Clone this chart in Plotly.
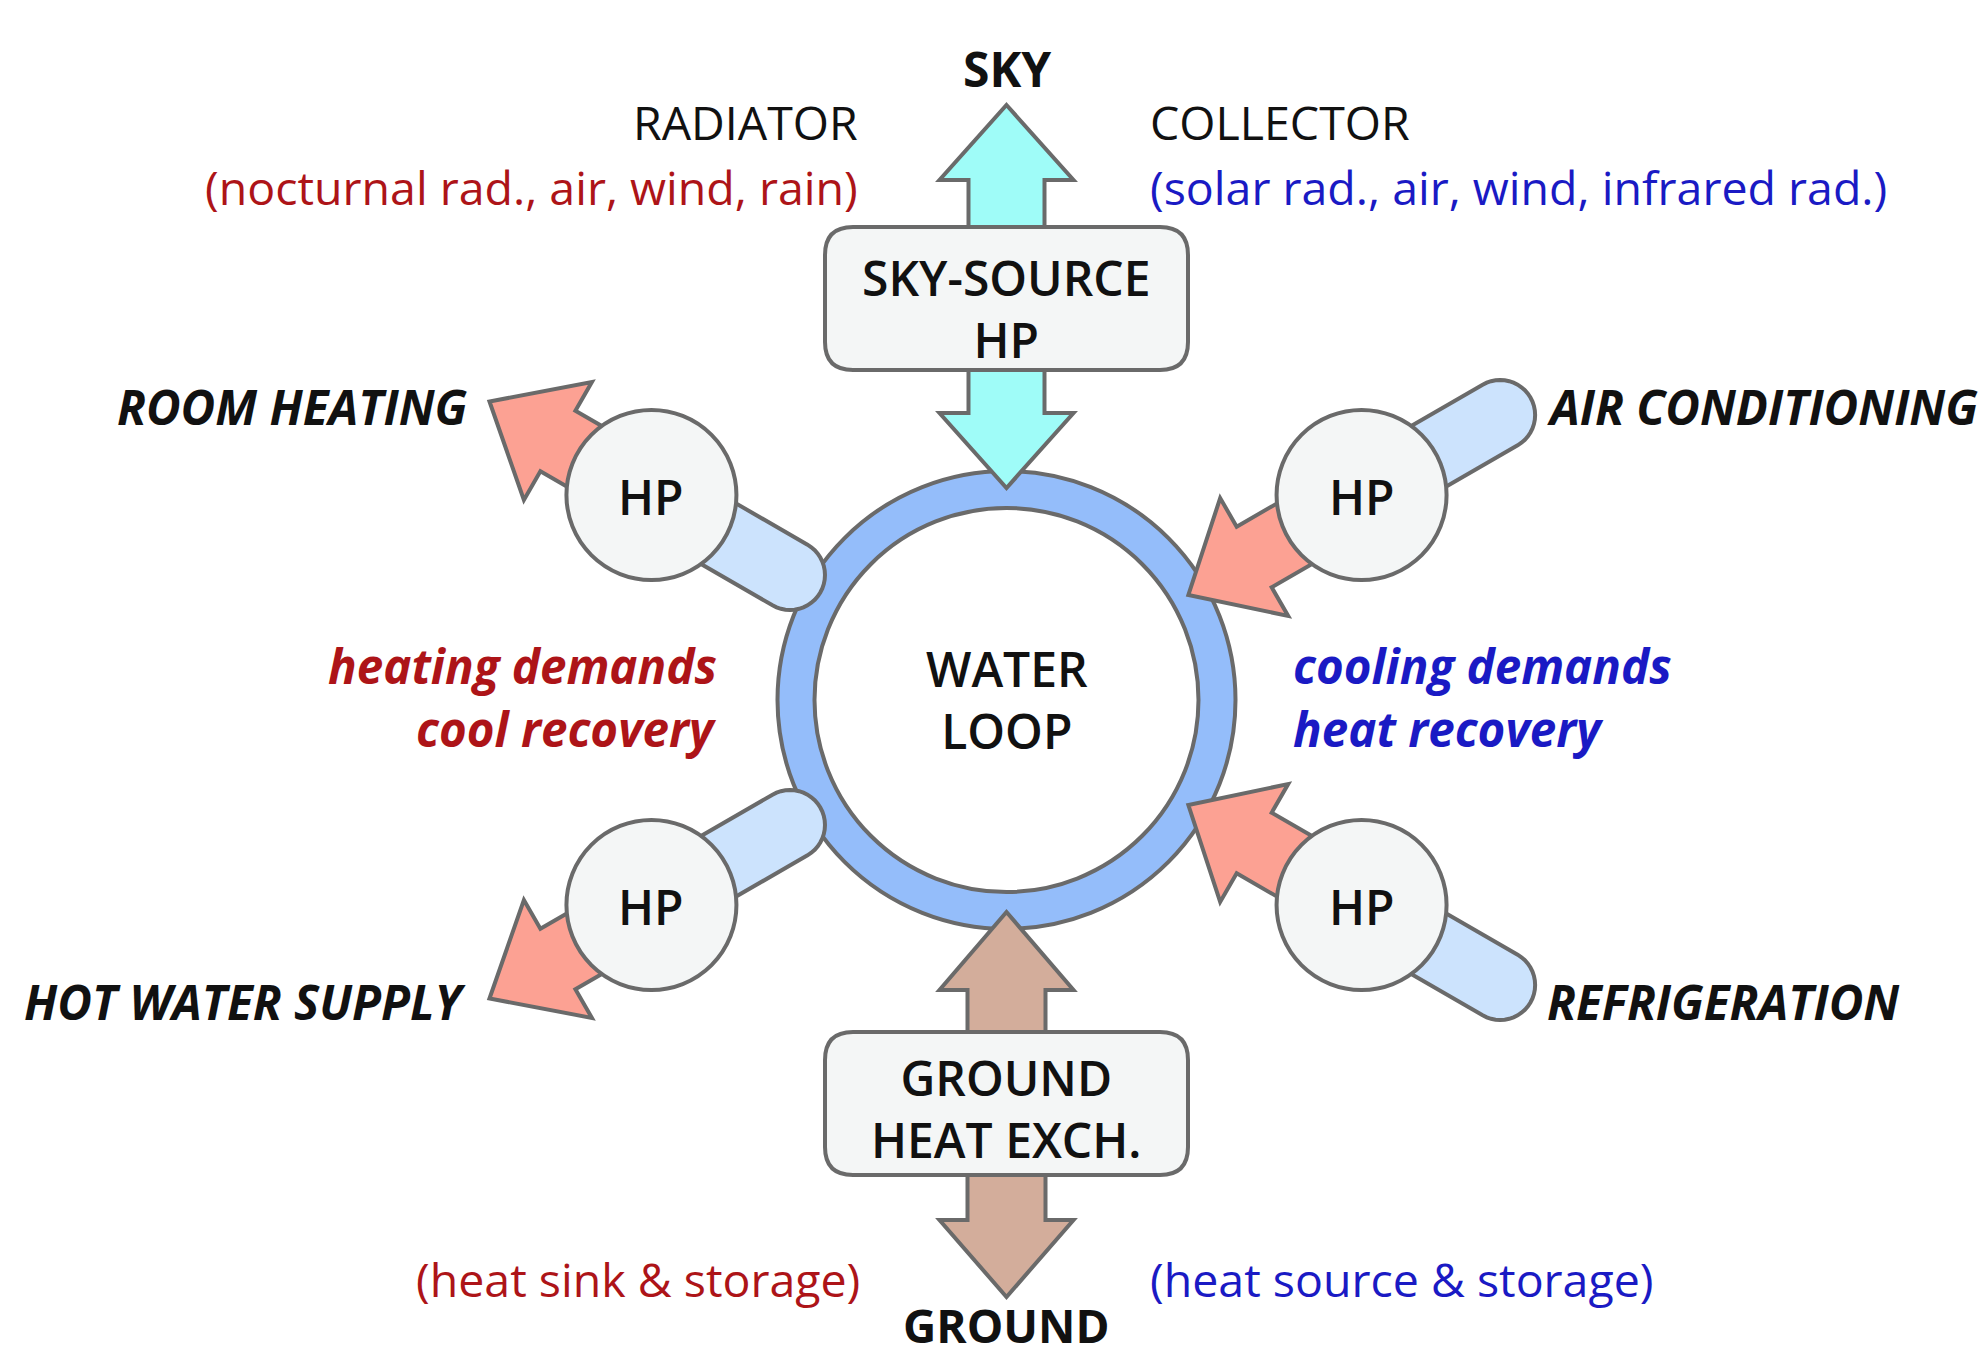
import math
import plotly.graph_objects as go

# ---------------- canvas / geometry ----------------
W, H = 1978, 1358
CX, CY = 1006.5, 700          # water-loop centre
RING_OUTER = 229
RING_INNER = 192
HP_DIST = 410                  # distance of each HP unit from loop centre
HP_R = 85
PIPE_HALF = 35
STROKE = "#6a6a6a"
LW = 4

# ---------------- colours ----------------
RING_BLUE = "#94bdfa"
PIPE_BLUE = "#cce3fd"
UNIT_FILL = "#f4f6f6"
SALMON = "#fca193"
CYAN = "#9ffcf8"
TAN = "#d3ad9b"
RED = "#ad1418"
BLUE = "#1a1ac4"
BLACK = "#111111"
FONT = "Open Sans"

# ---------------- HP units (angles in screen degrees) ----------------
hp_angles = [210, 330, 150, 30]
hp_flow = ["out", "in", "out", "in"]          # red arrow direction w.r.t. loop
pipe_cap_u = [250, 570, 250, 570]             # pipe cap centre distance from loop centre
hp_label = "HP"

# ---------------- labels ----------------
side_labels = ["ROOM HEATING", "AIR CONDITIONING", "HOT WATER SUPPLY", "REFRIGERATION"]
side_x = [469, 1545, 469, 1545]
side_y = [406, 406, 1001, 1001]
side_anchor = ["right", "left", "right", "left"]

demand_left = ["heating demands", "cool recovery"]
demand_right = ["cooling demands", "heat recovery"]
demand_y = [665, 728]

sky_box_lines = ["SKY-SOURCE", "HP"]
sky_box_y = 308
ground_box_lines = ["GROUND", "HEAT EXCH."]
ground_box_y = 1108
loop_lines = ["WATER", "LOOP"]
loop_y = 699

top_left = ["RADIATOR", "(nocturnal rad., air, wind, rain)"]
top_right = ["COLLECTOR", "(solar rad., air, wind, infrared rad.)"]
top_y = [122, 187]
bottom_left = "(heat sink & storage)"
bottom_right = "(heat source & storage)"
bottom_y = 1279


def path_from(points, close=True):
    s = "M " + " L ".join(f"{x:.2f},{y:.2f}" for x, y in points)
    return s + (" Z" if close else "")


def rounded_rect(x0, y0, x1, y1, r):
    return (f"M {x0+r},{y0} L {x1-r},{y0} Q {x1},{y0} {x1},{y0+r} "
            f"L {x1},{y1-r} Q {x1},{y1} {x1-r},{y1} L {x0+r},{y1} "
            f"Q {x0},{y1} {x0},{y1-r} L {x0},{y0+r} Q {x0},{y0} {x0+r},{y0} Z")


def ray(theta_deg):
    t = math.radians(theta_deg)
    d = (math.cos(t), math.sin(t))
    n = (-d[1], d[0])
    return d, n


def pt(d, n, u, v):
    return (CX + d[0] * u + n[0] * v, CY + d[1] * u + n[1] * v)


shapes = []


def add_path(path, fill):
    shapes.append(dict(type="path", path=path, xref="x", yref="y",
                       fillcolor=fill, line=dict(color=STROKE, width=LW), layer="above"))


def add_circle(cx, cy, r, fill):
    shapes.append(dict(type="circle", xref="x", yref="y", x0=cx - r, x1=cx + r,
                       y0=cy - r, y1=cy + r, fillcolor=fill,
                       line=dict(color=STROKE, width=LW), layer="above"))


# water loop ring
add_circle(CX, CY, RING_OUTER, RING_BLUE)
add_circle(CX, CY, RING_INNER, "white")

# vertical double arrows (sky / ground)
def double_arrow(tip_a, base_a, base_b, tip_b, shaft_hw, head_hw, fill):
    pts = [(CX, tip_a), (CX + head_hw, base_a), (CX + shaft_hw, base_a),
           (CX + shaft_hw, base_b), (CX + head_hw, base_b), (CX, tip_b),
           (CX - head_hw, base_b), (CX - shaft_hw, base_b),
           (CX - shaft_hw, base_a), (CX - head_hw, base_a)]
    add_path(path_from(pts), fill)

double_arrow(105, 180, 413, 488, 38, 67, CYAN)
double_arrow(912, 990, 1220, 1297, 39, 67, TAN)

# boxes
add_path(rounded_rect(825, 227, 1188, 370, 28), UNIT_FILL)
add_path(rounded_rect(825, 1032, 1188, 1175, 28), UNIT_FILL)

# pipes
for ang, cap in zip(hp_angles, pipe_cap_u):
    d, n = ray(ang)
    sgn = 1 if cap > HP_DIST else -1
    pts = [pt(d, n, HP_DIST, PIPE_HALF), pt(d, n, cap, PIPE_HALF)]
    for k in range(1, 24):
        a = math.pi / 2 - math.pi * k / 24
        pts.append(pt(d, n, cap + sgn * PIPE_HALF * math.cos(a), PIPE_HALF * math.sin(a)))
    pts += [pt(d, n, cap, -PIPE_HALF), pt(d, n, HP_DIST, -PIPE_HALF)]
    add_path(path_from(pts), PIPE_BLUE)

# red heat arrows
for ang, flow in zip(hp_angles, hp_flow):
    d, n = ray(ang)
    if flow == "out":
        us, ub, ut = HP_DIST, 518, 597
    else:
        us, ub, ut = HP_DIST, 286, 210
    ws, wh = 35, 68
    pts = [pt(d, n, us, ws), pt(d, n, ub, ws), pt(d, n, ub, wh), pt(d, n, ut, 0),
           pt(d, n, ub, -wh), pt(d, n, ub, -ws), pt(d, n, us, -ws)]
    add_path(path_from(pts), SALMON)

# HP units
hp_centres = []
for ang in hp_angles:
    d, n = ray(ang)
    c = pt(d, n, HP_DIST, 0)
    hp_centres.append(c)
    add_circle(c[0], c[1], HP_R, UNIT_FILL)

# ---------------- annotations ----------------
ann = []


def text(x, y, s, size=46, color=BLACK, anchor="center", weight="normal", style="normal"):
    ann.append(dict(x=x, y=y, xref="x", yref="y", text=s, showarrow=False,
                    xanchor=anchor, yanchor="middle", align=anchor if anchor != "center" else "center",
                    font=dict(family=FONT, size=size, color=color, weight=weight, style=style)))


text(CX, 68, "SKY", size=48, weight="bold")
text(CX, 1325, "GROUND", size=46, weight="bold")

for s, y, c in zip(top_left, top_y, [BLACK, RED]):
    text(860, y, s, size=46.5, color=c, anchor="right")
for s, y, c in zip(top_right, top_y, [BLACK, BLUE]):
    text(1148, y, s, size=46.5, color=c, anchor="left")
text(862, bottom_y, bottom_left, size=46.5, color=RED, anchor="right")
text(1148, bottom_y, bottom_right, size=46.5, color=BLUE, anchor="left")

text(CX, sky_box_y, "<br>".join(sky_box_lines), size=48, weight=600)
text(CX, ground_box_y, "<br>".join(ground_box_lines), size=48, weight=600)
text(CX, loop_y, "<br>".join(loop_lines), size=48, weight=600)

for (hx, hy) in hp_centres:
    text(hx, hy + 1, hp_label, size=48, weight=600)

for s, x, y, a in zip(side_labels, side_x, side_y, side_anchor):
    text(x, y, s, size=47.5, weight="bold", style="italic", anchor=a)

for s, y in zip(demand_left, demand_y):
    text(719, y, s, size=47.5, color=RED, weight="bold", style="italic", anchor="right")
for s, y in zip(demand_right, demand_y):
    text(1291, y, s, size=47.5, color=BLUE, weight="bold", style="italic", anchor="left")

fig = go.Figure(go.Scatter(x=[], y=[], showlegend=False))
fig.update_layout(
    width=W, height=H, margin=dict(l=0, r=0, t=0, b=0),
    paper_bgcolor="white", plot_bgcolor="white",
    xaxis=dict(range=[0, W], visible=False, fixedrange=True),
    yaxis=dict(range=[H, 0], visible=False, fixedrange=True),
    shapes=shapes, annotations=ann, showlegend=False,
)
fig.write_html("out.html", config={"displayModeBar": False},
               post_script="document.body.style.margin='0';document.body.style.overflow='hidden';")
